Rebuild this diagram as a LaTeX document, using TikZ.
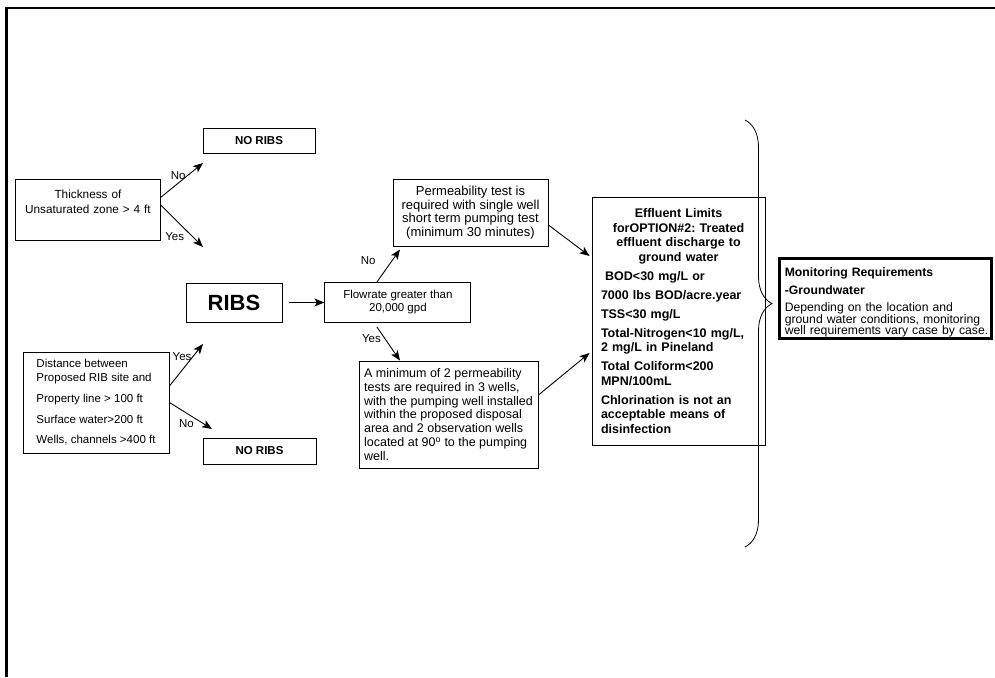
\documentclass[tikz,border=0pt]{standalone}
\usepackage{fontspec}
\setmainfont{Liberation Sans}
\frenchspacing
\usetikzlibrary{arrows.meta, positioning, decorations.pathreplacing}

\tikzset{
  box/.style={draw, line width=0.9pt, inner sep=0pt, font=\fontsize{12.5}{14}\selectfont},
  noribs/.style={box, minimum width=112pt, minimum height=25pt, font=\fontsize{11.5}{13}\selectfont\bfseries},
  lbl/.style={inner sep=0pt, font=\fontsize{11.5}{13}\selectfont},
  arr/.style={-{Stealth[length=10pt, width=8pt, inset=2.5pt]}, line width=0.9pt},
}

\begin{document}
\begin{tikzpicture}[x=1pt, y=-1pt]
  \useasboundingbox (0,0) rectangle (995,677);
  % page frame, only top and left edges visible
  \draw[line width=2.2pt] (6.5,677) -- (6.5,8) -- (995,8);

  \node[noribs] (norib1) at (259,140.5) {NO RIBS};
  \node[box, anchor=north west, text width=145pt, align=center, inner ysep=10pt, text depth=32pt,
    font=\fontsize{11.8}{15.5}\selectfont] (thick) at (15,179)
    {Thickness of\\Unsaturated zone > 4 ft};
  \node[box, minimum width=146pt, minimum height=101pt, align=left, font=\fontsize{11.5}{14}\selectfont]
    (dist) at (96,402.5)
    {Distance between\\Proposed RIB site and\\[7pt]Property line > 100 ft\\[7pt]Surface water>200 ft\\[6pt]Wells, channels >400 ft};
  \node[noribs, minimum width=113pt, minimum height=26pt] (norib2) at (259.5,451) {NO RIBS};

  \node[box, minimum width=96pt, minimum height=39pt, font=\fontsize{22}{24}\selectfont\bfseries] (ribs) at (234,302.5) {RIBS};
  \node[box, minimum width=146pt, minimum height=40pt, align=center, font=\fontsize{11.5}{13}\selectfont]
    (flow) [right=42pt of ribs] {Flowrate greater than\\20,000 gpd};
  \node[box, minimum width=155pt, minimum height=67pt, align=center, font=\fontsize{13}{13.5}\selectfont]
    (perm) at (470.5,212.5) {Permeability test is\\required with single well\\short term pumping test\\(minimum 30 minutes)};
  \node[box, minimum width=179pt, minimum height=107pt, align=left, font=\fontsize{12.5}{13.8}\selectfont]
    (mini) at (448.5,414.5) {A minimum of 2 permeability\\tests are required in 3 wells,\\with the pumping well installed\\within the proposed disposal\\area and 2 observation wells\\located at 90\textsuperscript{o} to the pumping\\well.};

  \node[box, text width=155pt, inner xsep=9pt, minimum height=248pt, font=\fontsize{12.5}{14.5}\selectfont\bfseries]
    (eff) at (678.5,321) {\setlength{\parskip}{4.5pt}\centering Effluent Limits\\forOPTION\#2: Treated\\effluent discharge to\\ground water\par
    \raggedright\ BOD<30 mg/L or\par
    7000 lbs BOD/acre.year\par
    TSS<30 mg/L\par
    Total-Nitrogen<10 mg/L,\\2 mg/L in Pineland\par
    Total Coliform<200\\MPN/100mL\par
    Chlorination is not an\\acceptable means of\\disinfection};

  \node[box, line width=2.6pt, anchor=north west, text width=207pt, inner xsep=2.5pt, text height=18.5pt, text depth=61.5pt,
    align=left, font=\fontsize{12.2}{11.5}\selectfont] (mon) at (778,257)
    {\hspace*{3pt}\textbf{Monitoring Requirements}\\[6pt]\hspace*{3pt}\textbf{-Groundwater}\\[6pt]\hspace*{3pt}Depending on the location and\\\hspace*{3pt}ground water conditions, monitoring\\\hspace*{3pt}well requirements vary case by case.};

  % free arrow ends
  \coordinate (thickNo) at (203,163);
  \coordinate (thickYes) at (203,247);
  \coordinate (distYes) at (203,344);
  \coordinate (distNo) at (212,429);
  \coordinate (braceTop) at (745,120);
  \coordinate (braceBot) at (745,547);

  \path[arr]
    ([yshift=12.5pt]thick.east) edge node[lbl, pos=.5, above left, xshift=4pt] {No} (thickNo)
    ([yshift=4.5pt]thick.east) edge node[lbl, pos=.75, left=8pt] {Yes} (thickYes)
    ([yshift=16.5pt]dist.east) edge node[lbl, pos=.7, left=1pt] {Yes} (distYes)
    (dist.east) edge node[lbl, pos=.4, below=6pt] {No} (distNo)
    ([xshift=7pt]ribs.east) edge (flow.west)
    ([xshift=-21pt]flow.north) edge node[lbl, pos=.65, left=16pt] {No} ([xshift=-70.5pt, yshift=-3pt]perm.south)
    ([xshift=-21pt, yshift=-4pt]flow.south) edge node[lbl, pos=.36, left=4pt] {Yes} ([xshift=-48.5pt]mini.north)
    ([yshift=-12.5pt]perm.east) edge ([xshift=-2pt, yshift=65pt]eff.west)
    ([yshift=19.5pt]mini.east) edge ([xshift=-2pt, yshift=-32pt]eff.west);

  \draw[decorate, decoration={brace, amplitude=27pt, aspect=0.43}, line width=0.8pt] (braceTop) -- (braceBot);
\end{tikzpicture}
\end{document}
